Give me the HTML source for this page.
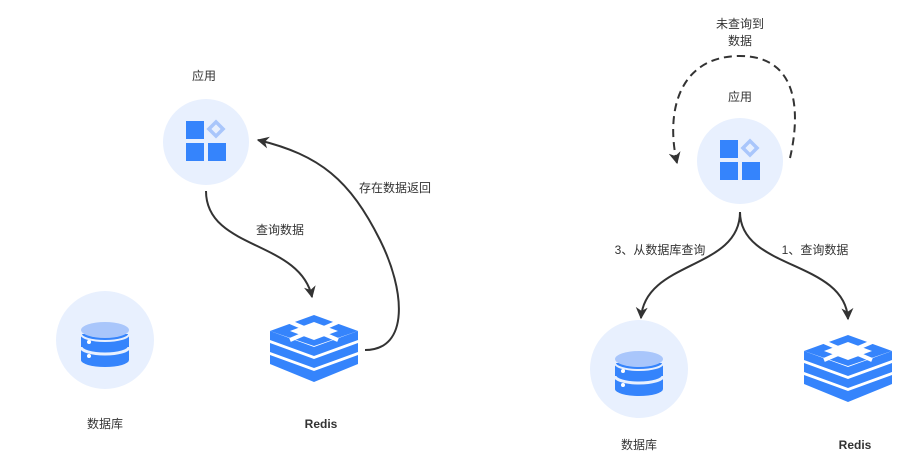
<!DOCTYPE html>
<html><head><meta charset="utf-8"><style>
html,body{margin:0;padding:0;background:#fff;}
svg{display:block;}
text{font-family:"Liberation Sans","Noto Sans CJK SC",sans-serif;font-size:12px;fill:#333;}
</style></head><body>
<svg width="906" height="464" viewBox="0 0 906 464" xmlns="http://www.w3.org/2000/svg">
<defs>
<marker id="ah" viewBox="0 0 10 10" refX="9" refY="5" markerWidth="13" markerHeight="12" orient="auto-start-reverse" markerUnits="userSpaceOnUse">
<path d="M0,0 L10,5 L0,10 L3,5 Z" fill="#333"/></marker>
<g id="app">
<circle cx="0" cy="0" r="43" fill="#e8f0fe"/>
<rect x="-20" y="-21" width="18" height="18" fill="#3584fc"/>
<rect x="-20" y="1" width="18" height="18" fill="#3584fc"/>
<rect x="2" y="1" width="18" height="18" fill="#3584fc"/>
<rect x="5" y="-18" width="10" height="10" fill="none" stroke="#a9c6fb" stroke-width="3.5" transform="rotate(45 10 -13)"/>
</g>
<g id="db">
<circle cx="0" cy="0" r="49" fill="#e8f0fe"/>
<path d="M-24,-6 L-24,20 A24,7 0 0 0 24,20 L24,-6 Z" fill="#3584fc"/>
<path d="M-24,7 A24,7 0 0 0 24,7" fill="none" stroke="#e8f0fe" stroke-width="3"/>
<ellipse cx="0" cy="-10" rx="24" ry="8" fill="#a9c6fb"/>
<path d="M-24,-6 A24,7 0 0 0 24,-6" fill="none" stroke="#e8f0fe" stroke-width="2"/>
<circle cx="-16" cy="2" r="2" fill="#fff"/>
<circle cx="-16" cy="16" r="2" fill="#fff"/>
</g>
<g id="redis">
<path d="M0,16 L44,32 L88,16 L88,25 L44,41 L0,25 Z" fill="#3584fc"/>
<path d="M0,28 L44,44 L88,28 L88,37 L44,53 L0,37 Z" fill="#3584fc"/>
<path d="M0,40 L44,56 L88,40 L88,49 L44,67 L0,49 Z" fill="#3584fc"/>
<path d="M44,0 L88,16 L44,31 L0,16 Z" fill="#3584fc"/>
<path d="M44,7 L68,16 L44,25 L20,16 Z" fill="#fff"/>
<path d="M20,7 L34,13 M68,7 L54,13 M68,25 L54,19 M20,25 L34,19" stroke="#fff" stroke-width="4"/>
</g>
</defs>

<!-- left -->
<use href="#app" x="206" y="142"/>
<text x="204" y="80" text-anchor="middle">应用</text>
<use href="#db" x="105" y="340"/>
<text x="105" y="428" text-anchor="middle">数据库</text>
<use href="#redis" x="270" y="315"/>
<text x="321" y="428" text-anchor="middle" font-weight="bold">Redis</text>
<path d="M206,191 C206,250 300,240 312,297" fill="none" stroke="#333" stroke-width="2" marker-end="url(#ah)"/>
<text x="280" y="234" text-anchor="middle">查询数据</text>
<path d="M365,350 C410,350 405,290 380,240 C350,180 320,155 258,140" fill="none" stroke="#333" stroke-width="2" marker-end="url(#ah)"/>
<text x="395" y="192" text-anchor="middle">存在数据返回</text>

<!-- right -->
<use href="#app" x="740" y="161"/>
<text x="740" y="101" text-anchor="middle">应用</text>
<text x="740" y="28" text-anchor="middle">未查询到</text>
<text x="740" y="45" text-anchor="middle">数据</text>
<path d="M790,158 C800,115 800,56 740,56 C680,56 665,110 677,163" fill="none" stroke="#333" stroke-width="2" stroke-dasharray="8,5" marker-end="url(#ah)"/>
<use href="#db" x="639" y="369"/>
<text x="639" y="449" text-anchor="middle">数据库</text>
<use href="#redis" x="804" y="335"/>
<text x="855" y="449" text-anchor="middle" font-weight="bold">Redis</text>
<path d="M740,212 C740,270 645,260 641,318" fill="none" stroke="#333" stroke-width="2" marker-end="url(#ah)"/>
<path d="M740,212 C740,270 845,260 848,319" fill="none" stroke="#333" stroke-width="2" marker-end="url(#ah)"/>
<text x="660" y="254" text-anchor="middle">3、从数据库查询</text>
<text x="815" y="254" text-anchor="middle">1、查询数据</text>
</svg>
</body></html>
